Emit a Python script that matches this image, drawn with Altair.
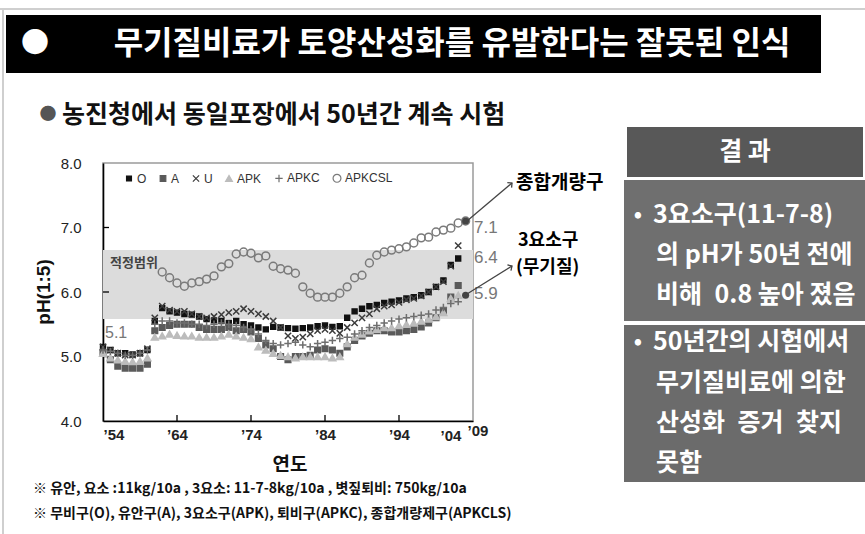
import altair as alt
import pandas as pd

# ---------------- data ----------------
years = list(range(1954, 2003))  # 1954 .. 2002
O_vals = [5.15, 5.10, 5.05, 5.05, 5.03, 5.05, 5.10, 5.55, 5.75, 5.70,
          5.68, 5.66, 5.65, 5.62, 5.58, 5.56, 5.55, 5.52, 5.55, 5.50,
          5.48, 5.45, 5.42, 5.46, 5.45, 5.44, 5.43, 5.44, 5.45, 5.47,
          5.48, 5.46, 5.47, 5.60, 5.70, 5.74, 5.78, 5.80, 5.83, 5.85,
          5.87, 5.90, 5.92, 5.95, 6.00, 6.08, 6.18, 6.42, 6.52]
A_vals = [5.05, 4.95, 4.85, 4.82, 4.82, 4.82, 4.88, 5.40, 5.45, 5.48,
          5.50, 5.50, 5.50, 5.45, 5.42, 5.42, 5.42, 5.45, 5.40, 5.42,
          5.38, 5.28, 5.18, 5.12, 5.00, 4.95, 5.00, 5.00, 5.02, 5.10,
          5.12, 5.10, 5.05, 5.15, 5.25, 5.32, 5.36, 5.40, 5.40, 5.38,
          5.38, 5.40, 5.42, 5.46, 5.52, 5.60, 5.70, 5.92, 6.10]
U_vals = [5.15, 5.10, 5.05, 5.02, 5.02, 5.05, 5.12, 5.60, 5.78, 5.72,
          5.70, 5.70, 5.66, 5.62, 5.60, 5.62, 5.65, 5.68, 5.70, 5.74,
          5.70, 5.66, 5.62, 5.55, 5.45, 5.32, 5.28, 5.30, 5.35, 5.40,
          5.42, 5.40, 5.36, 5.45, 5.52, 5.60, 5.66, 5.74, 5.78, 5.80,
          5.84, 5.88, 5.90, 5.94, 6.00, 6.08, 6.16, 6.40, 6.72]
APK_vals = [5.05, 4.98, 4.95, 4.93, 4.92, 4.93, 4.98, 5.30, 5.32, 5.35,
            5.33, 5.32, 5.32, 5.30, 5.30, 5.30, 5.32, 5.35, 5.32, 5.30,
            5.28, 5.15, 5.10, 5.05, 5.02, 5.00, 4.98, 5.00, 5.00, 5.00,
            5.00, 4.98, 5.00, 5.20, 5.30, 5.35, 5.40, 5.42, 5.45, 5.45,
            5.48, 5.50, 5.52, 5.55, 5.58, 5.62, 5.68, 5.90, 5.95]
APKC_vals = [5.10, 5.08, 5.05, 5.02, 5.02, 5.05, 5.10, 5.50, 5.55, 5.55,
             5.52, 5.52, 5.50, 5.50, 5.48, 5.50, 5.52, 5.50, 5.48, 5.45,
             5.42, 5.35, 5.25, 5.20, 5.18, 5.20, 5.22, 5.18, 5.15, 5.20,
             5.22, 5.25, 5.28, 5.30, 5.35, 5.40, 5.45, 5.48, 5.52, 5.55,
             5.58, 5.60, 5.62, 5.64, 5.66, 5.72, 5.76, 5.82, 5.85]
csl_years = list(range(1962, 2004))  # 1962 .. 2003
APKCSL_vals = [6.31, 6.22, 6.14, 6.09, 6.14, 6.16, 6.20, 6.25, 6.39, 6.44,
               6.59, 6.62, 6.60, 6.53, 6.56, 6.40, 6.36, 6.34, 6.29, 6.08,
               5.98, 5.92, 5.92, 5.92, 5.98, 6.08, 6.22, 6.26, 6.45, 6.57,
               6.62, 6.65, 6.67, 6.70, 6.76, 6.84, 6.85, 6.93, 6.96, 6.99,
               7.07, 7.10]

series_names = ["O", "A", "U", "APK", "APKC", "APKCSL"]
band_low, band_high = [5.58], [6.65]       # 적정범위
y_tick_vals = [5, 6, 7]
x_tick_vals = [1964, 1974, 1984, 1994]
x_label_vals = [1954, 1964, 1974, 1984, 1994]
end_years = [2003, 2003]
end_vals = [7.10, 5.95]

# ---------------- build table ----------------
rows = []
for name, vals in zip(["O", "A", "U", "APK", "APKC"], [O_vals, A_vals, U_vals, APK_vals, APKC_vals]):
    for yr, v in zip(years, vals):
        rows.append({"year": yr, "pH": v, "series": name})
for yr, v in zip(csl_years, APKCSL_vals):
    rows.append({"year": yr, "pH": v, "series": "APKCSL"})
df = pd.DataFrame(rows)

# ---------------- styling ----------------
KR = "Noto Sans CJK KR"
LAT = "Liberation Sans"
W, H = 370, 258
OX, OY = 103, 163
SP = "\u2002"  # wide space (SVG keeps it)

def px(x):
    return x - OX

def py(y):
    return y - OY

shapes = ["square", "square", "M-1,-1L1,1M-1,1L1,-1", "triangle-up", "M-1,0L1,0M0,-1L0,1", "circle"]
strokes = ["#111111", "#5a5a5a", "#3c3c3c", "#bcbcbc", "#6e6e6e", "#7a7a7a"]
fills = ["#111111", "#5a5a5a", "transparent", "#bcbcbc", "transparent", "transparent"]
sizes = [24, 62, 50, 62, 66, 78]

xs = alt.Scale(domain=[1954, 2004], nice=False, zero=False)
ys = alt.Scale(domain=[4, 8], nice=False, zero=False)

X_AX = alt.Axis(values=x_label_vals, title=None, ticks=False, grid=False, labelPadding=6,
                labelExpr="'\u2019' + substring(toString(datum.value), 2, 4)",
                labelFont=LAT, labelFontSize=15, labelFontWeight="bold", labelColor="#222",
                domainColor="#000", domainWidth=1.6)
Y_AX = alt.Axis(values=[4, 5, 6, 7, 8], title=None, ticks=False, grid=False, labelPadding=22,
                format=".1f", labelFont=LAT, labelFontSize=15, labelColor="#222",
                domainColor="#000", domainWidth=1.6)

LEG = alt.Legend(orient="none", legendX=20, legendY=9, direction="horizontal", title=None,
                 labelFont=LAT, labelFontSize=12, labelColor="#333", columnPadding=10,
                 labelOffset=2, symbolStrokeWidth=1.2)

band = alt.Chart(pd.DataFrame({"lo": band_low, "hi": band_high})).mark_rect(color="#dcdcdc").encode(
    y=alt.Y("lo:Q", scale=ys, axis=Y_AX), y2="hi:Q", x=alt.value(0), x2=alt.value(W))

ytk = alt.Chart(pd.DataFrame({"v": y_tick_vals})).mark_rule(color="#000", strokeWidth=1.3).encode(
    y=alt.Y("v:Q", scale=ys, axis=Y_AX), x=alt.value(0), x2=alt.value(6))
xtk = alt.Chart(pd.DataFrame({"v": x_tick_vals})).mark_rule(color="#000", strokeWidth=1.3).encode(
    x=alt.X("v:Q", scale=xs, axis=X_AX), y=alt.value(H), y2=alt.value(H - 6))

points = alt.Chart(df).mark_point(filled=False, strokeWidth=1.5, fillOpacity=1, opacity=1).encode(
    x=alt.X("year:Q", scale=xs, axis=X_AX),
    y=alt.Y("pH:Q", scale=ys, axis=Y_AX),
    color=alt.Color("series:N", scale=alt.Scale(domain=series_names, range=strokes), legend=LEG),
    shape=alt.Shape("series:N", scale=alt.Scale(domain=series_names, range=shapes), legend=LEG),
    fill=alt.Fill("series:N", scale=alt.Scale(domain=series_names, range=fills), legend=LEG),
    size=alt.Size("series:N", scale=alt.Scale(domain=series_names, range=sizes), legend=LEG),
)

dots = alt.Chart(pd.DataFrame({"year": end_years, "pH": end_vals})).mark_circle(size=50, color="#444", opacity=1).encode(
    x=alt.X("year:Q", scale=xs, axis=X_AX), y=alt.Y("pH:Q", scale=ys, axis=Y_AX))


def label(t, x, y, size, color="#000", weight="normal", align="left", font=KR, angle=0, baseline="middle"):
    kw = dict(fontSize=size, color=color, fontWeight=weight, align=align, baseline=baseline, font=font)
    if angle:
        kw["angle"] = angle
    return alt.Chart(pd.DataFrame({"t": [t]})).mark_text(**kw).encode(
        text="t:N", x=alt.value(px(x)), y=alt.value(py(y)))


def box(x1, y1, x2, y2, fill):
    return alt.Chart(pd.DataFrame({"k": [0]})).mark_rect(color=fill).encode(
        x=alt.value(px(x1)), x2=alt.value(px(x2)), y=alt.value(py(y1)), y2=alt.value(py(y2)))


def line(x1, y1, x2, y2, color="#444", width=1.3):
    return alt.Chart(pd.DataFrame({"k": [0]})).mark_rule(color=color, strokeWidth=width).encode(
        x=alt.value(px(x1)), x2=alt.value(px(x2)), y=alt.value(py(y1)), y2=alt.value(py(y2)))


def head(x, y, angle):
    return alt.Chart(pd.DataFrame({"k": [0]})).mark_point(
        shape="M-0.7,0.7L0,0L0.7,0.7", filled=False, size=90, strokeWidth=1.3, color="#444",
        angle=angle, opacity=1).encode(x=alt.value(px(x)), y=alt.value(py(y)))


deco = [
    line(0, 9, 865, 9, "#cfcfcf", 2),
    line(3, 9, 3, 534, "#cfcfcf", 2),
    box(6, 15, 821, 73, "#000000"),
    label("\u25cf", 35, 45, 28, "#ffffff", align="center"),
    label("무기질비료가 토양산성화를 유발한다는 잘못된 인식", 452, 44, 32, "#ffffff", "bold", "center"),
    label("\u25cf", 48, 115, 17, "#555555", align="center"),
    label("농진청에서 동일포장에서 50년간 계속 시험", 62, 115, 25, "#111111", "bold"),
    label("pH(1:5)", 44, 292, 19, "#111", "bold", "center", LAT, 270),
    label("연도", 290, 465, 19, "#111", "bold", "center"),
    label("※ 유안, 요소 :11kg/10a , 3요소: 11-7-8kg/10a , 볏짚퇴비: 750kg/10a", 33, 489, 14, "#111", "bold"),
    label("※ 무비구(O), 유안구(A), 3요소구(APK), 퇴비구(APKC), 종합개량제구(APKCLS)", 33, 514, 14, "#111", "bold"),
    label("\u201904", 451, 436, 15, "#222", "bold", "center", LAT),
    label("\u201909", 478, 431, 15, "#222", "bold", "center", LAT),
    label("적정범위", 110, 263, 13, "#444", "bold"),
    label("5.1", 105, 333, 16, "#777", font=LAT),
    label("7.1", 474, 228, 17, "#777", font=LAT),
    label("6.4", 474, 258, 17, "#777", font=LAT),
    label("5.9", 474, 294, 17, "#777", font=LAT),
    line(467, 221, 512, 183),
    head(512, 183, 50),
    line(467, 294, 512, 266),
    head(512, 266, 58),
    label("종합개량구", 516, 183, 19, "#000", "bold"),
    label("3요소구", 518, 241, 18, "#000", "bold"),
    label("(무기질)", 516, 268, 18, "#000", "bold"),
    box(627, 127, 863, 177, "#585858"),
    label("결 과", 745, 152, 25, "#ffffff", "bold", "center"),
    box(624, 180, 865, 321, "#6f6f6f"),
    label("\u2022", 638, 215, 22, "#ffffff", "bold", "center"),
    label("3요소구(11-7-8)", 653, 215, 25, "#ffffff", "bold"),
    label("의 pH가 50년 전에", 656, 255, 25, "#ffffff", "bold"),
    label("비해" + SP + "0.8 높아 졌음", 656, 295, 25, "#ffffff", "bold"),
    box(624, 325, 865, 482, "#6b6b6b"),
    label("\u2022", 638, 342, 22, "#ffffff", "bold", "center"),
    label("50년간의 시험에서", 653, 342, 25, "#ffffff", "bold"),
    label("무기질비료에 의한", 656, 383, 25, "#ffffff", "bold"),
    label("산성화" + SP + "증거" + SP + "찾지", 656, 423, 25, "#ffffff", "bold"),
    label("못함", 656, 463, 25, "#ffffff", "bold"),
]

chart = alt.layer(band, ytk, xtk, points, dots, *deco).properties(
    width=W, height=H,
    padding={"left": OX, "top": OY, "right": 865 - OX - W, "bottom": 534 - OY - H},
    autosize=alt.AutoSizeParams(type="none"),
    background="#ffffff",
).configure_view(stroke="#9a9a9a", strokeWidth=1.5)

chart.save("out.html", embed_options={"renderer": "svg", "actions": False})
